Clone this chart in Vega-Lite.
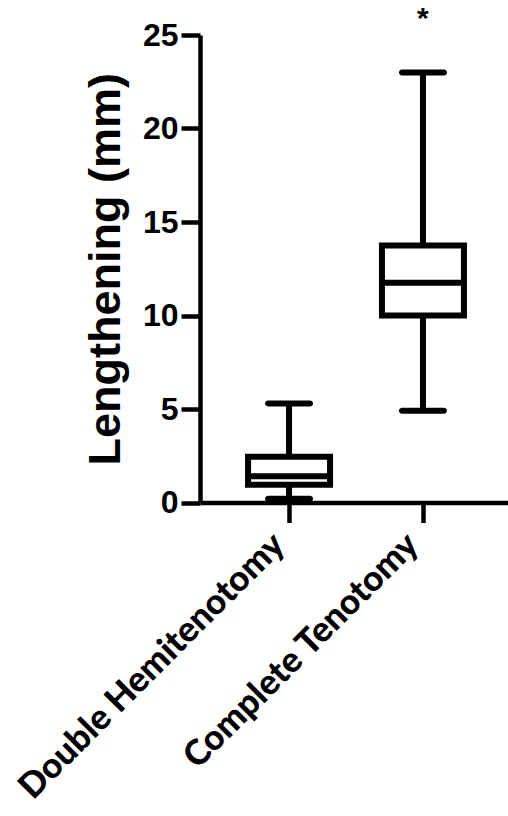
{
  "$schema": "https://vega.github.io/schema/vega-lite/v6.json",
  "autosize": "none",
  "padding": {"left": 200, "top": 35, "right": 0, "bottom": 313.5},
  "width": 312,
  "height": 467.5,
  "background": "white",
  "config": {"view": {"stroke": null}},
  "datasets": {
    "stats": [
      {"group": "Double Hemitenotomy", "min": 0.2, "q1": 0.95, "median": 1.4, "q3": 2.45, "max": 5.3},
      {"group": "Complete Tenotomy", "min": 4.9, "q1": 10.0, "median": 11.75, "q3": 13.75, "max": 23.0}
    ],
    "marks": [
      {"group": "Complete Tenotomy", "y": 25.4, "label": "*"}
    ]
  },
  "data": {"name": "stats"},
  "encoding": {
    "x": {
      "field": "group",
      "type": "nominal",
      "sort": ["Double Hemitenotomy", "Complete Tenotomy"],
      "scale": {"type": "point", "padding": 0.665},
      "axis": {
        "title": null,
        "labelAngle": -45,
        "labelAlign": "right",
        "labelBaseline": "bottom",
        "labelFont": "Lato",
        "labelFontWeight": 900,
        "labelFontSize": 35,
        "labelColor": "black",
        "labelPadding": 29,
        "labelOffset": 2,
        "labelLimit": 600,
        "domainColor": "black",
        "domainWidth": 4.5,
        "domainOpacity": 1,
        "tickColor": "black",
        "tickWidth": 4.5,
        "tickOpacity": 1,
        "tickSize": 20,
        "grid": false
      }
    }
  },
  "layer": [
    {
      "mark": {"type": "rule", "color": "black", "strokeWidth": 6},
      "encoding": {
        "y": {
          "field": "min",
          "type": "quantitative",
          "scale": {"domain": [0, 25], "nice": false, "zero": true},
          "axis": {
            "title": "Lengthening (mm)",
            "titleFont": "Liberation Sans",
            "titleFontWeight": "bold",
            "titleFontSize": 45,
            "titleColor": "black",
            "titlePadding": 14,
            "values": [0, 5, 10, 15, 20, 25],
            "labelFont": "Liberation Sans",
            "labelFontWeight": "bold",
            "labelFontSize": 32,
            "labelColor": "black",
            "labelPadding": 3,
            "domainColor": "black",
            "domainWidth": 4.5,
            "domainOpacity": 1,
            "tickColor": "black",
            "tickWidth": 4.5,
            "tickOpacity": 1,
            "tickSize": 19,
            "grid": false
          }
        },
        "y2": {"field": "q1"}
      }
    },
    {
      "mark": {"type": "rule", "color": "black", "strokeWidth": 6},
      "encoding": {
        "y": {"field": "q3", "type": "quantitative"},
        "y2": {"field": "max"}
      }
    },
    {
      "mark": {"type": "tick", "color": "black", "opacity": 1, "thickness": 6, "size": 48, "cornerRadius": 3},
      "encoding": {"y": {"field": "min", "type": "quantitative"}}
    },
    {
      "mark": {"type": "tick", "color": "black", "opacity": 1, "thickness": 6, "size": 48, "cornerRadius": 3},
      "encoding": {"y": {"field": "max", "type": "quantitative"}}
    },
    {
      "mark": {"type": "bar", "fill": "white", "stroke": "black", "strokeWidth": 6, "size": 82},
      "encoding": {
        "y": {"field": "q1", "type": "quantitative"},
        "y2": {"field": "q3"}
      }
    },
    {
      "mark": {"type": "tick", "color": "black", "opacity": 1, "thickness": 6, "size": 82},
      "encoding": {"y": {"field": "median", "type": "quantitative"}}
    },
    {
      "data": {"name": "marks"},
      "mark": {"type": "text", "font": "Liberation Sans", "fontWeight": "bold", "fontSize": 30, "color": "black", "clip": false, "baseline": "alphabetic"},
      "encoding": {
        "y": {"field": "y", "type": "quantitative"},
        "text": {"field": "label"}
      }
    }
  ]
}
